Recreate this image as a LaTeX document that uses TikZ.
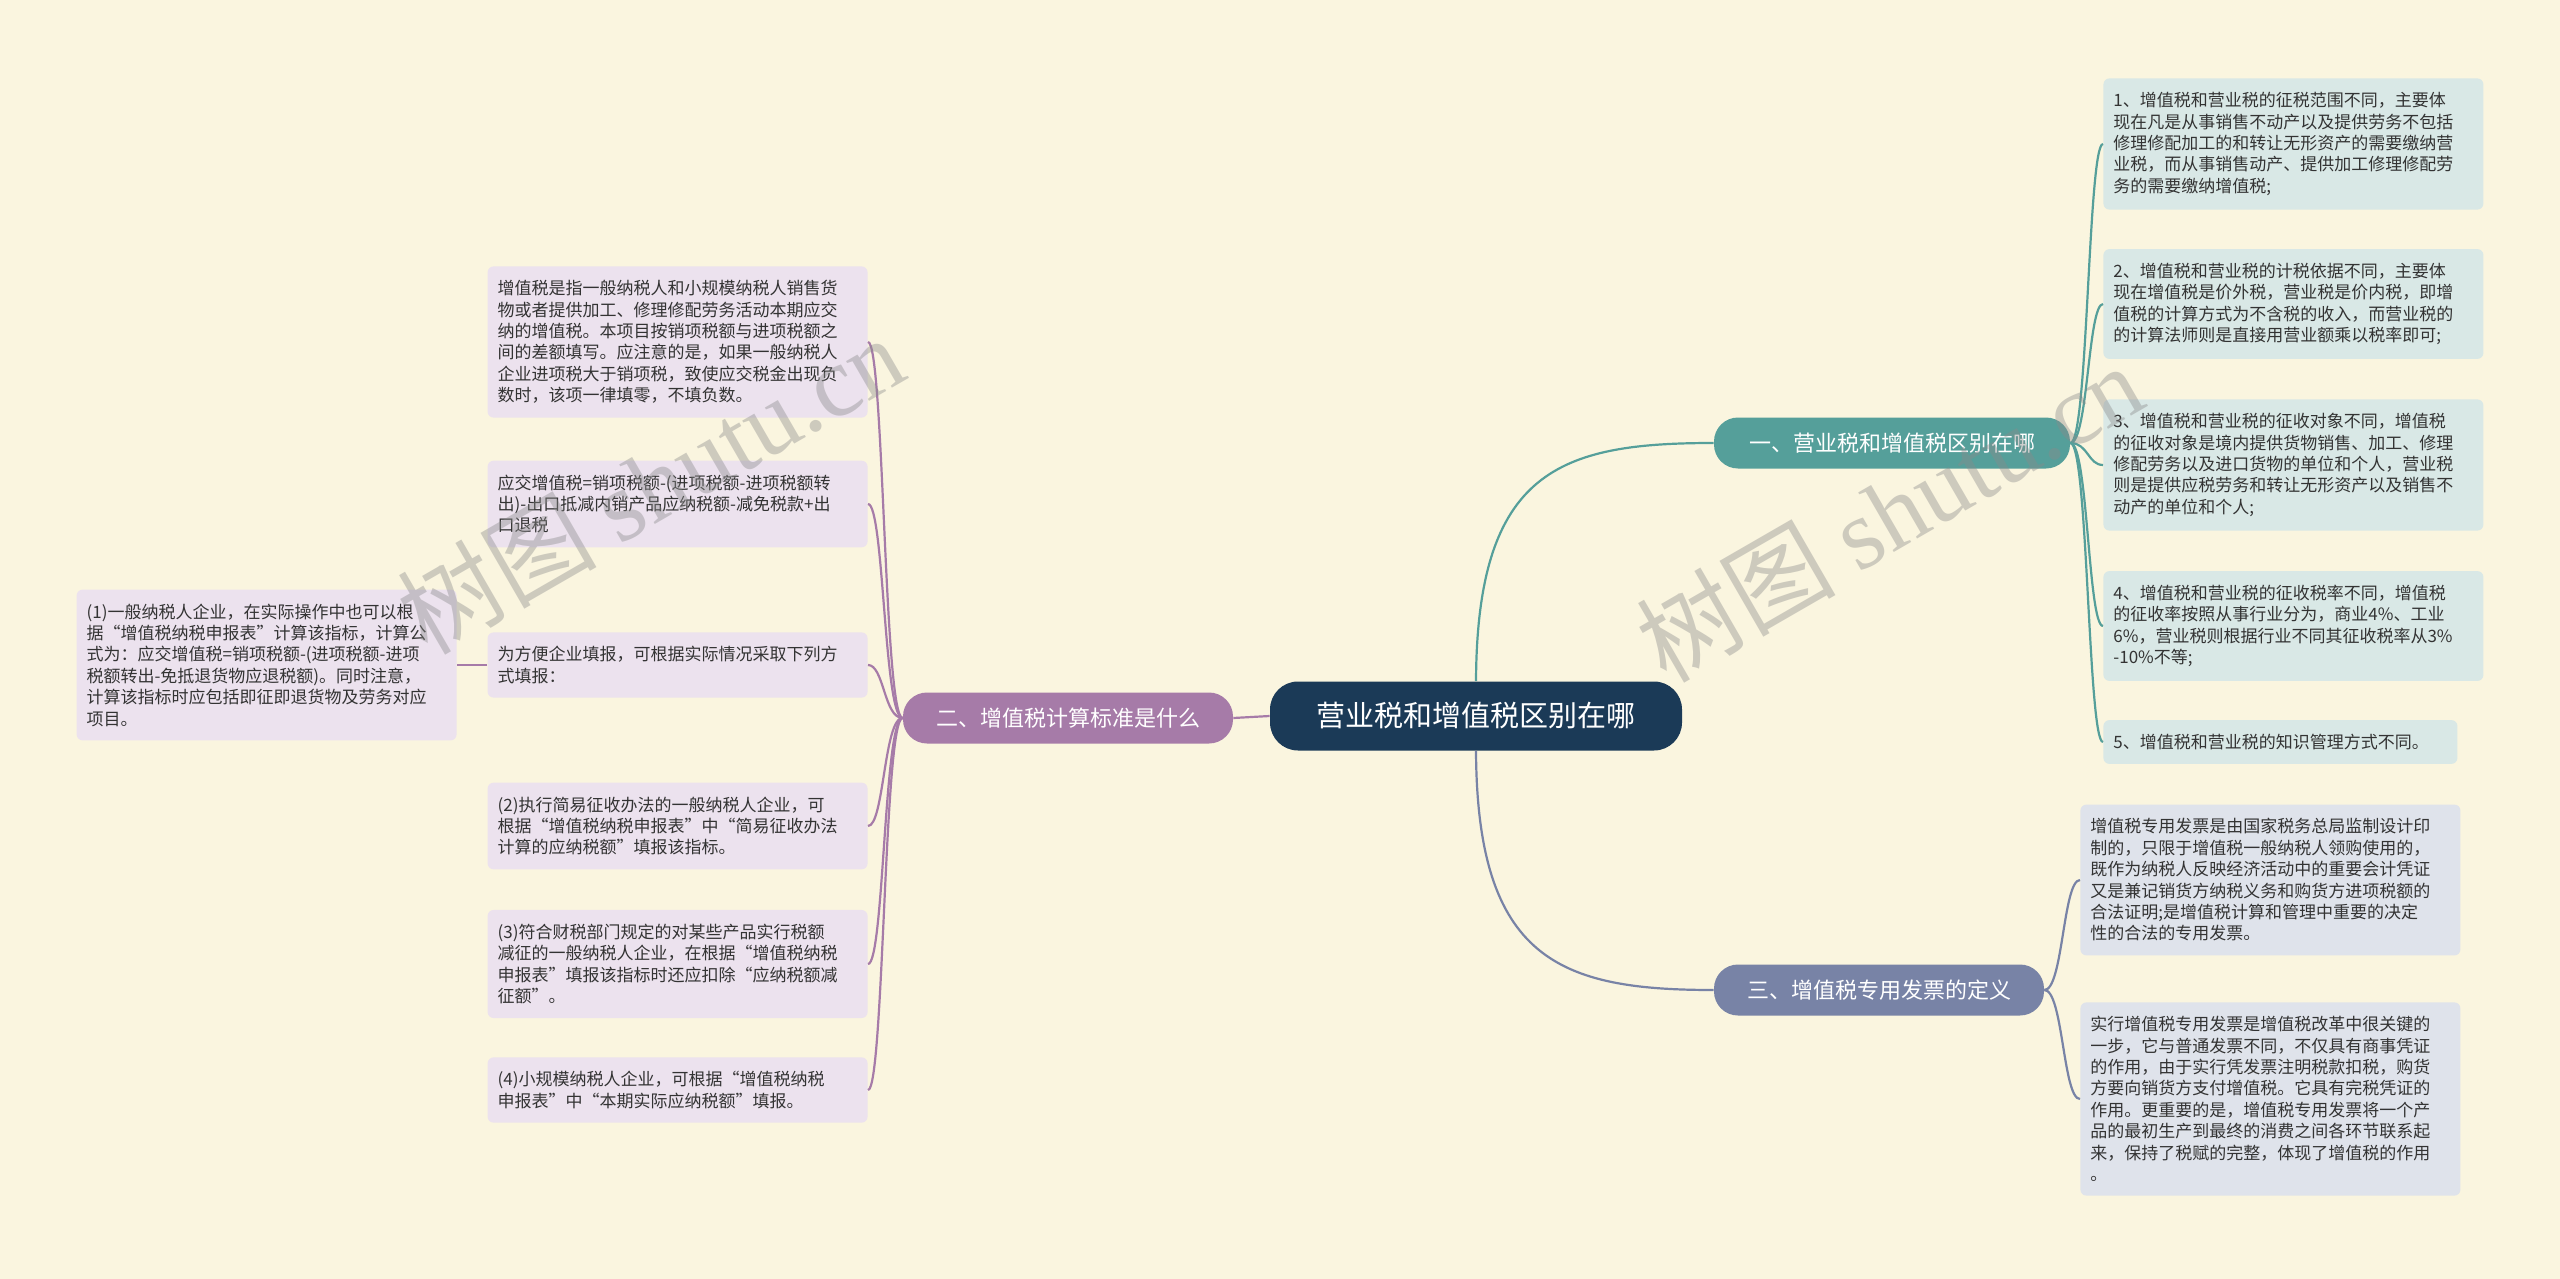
\documentclass[tikz,border=0pt]{standalone}
\usepackage{fontspec}
\setmainfont{Noto Sans CJK SC}
\newfontfamily\wmserif{Liberation Serif}
\newfontfamily\wmcjk{Noto Sans CJK SC}
\definecolor{bgc}{HTML}{FAF5DF}
\definecolor{centerc}{HTML}{1B3A57}
\definecolor{tealc}{HTML}{559F9A}
\definecolor{purc}{HTML}{A67BA8}
\definecolor{slatec}{HTML}{7883A6}
\definecolor{tealfill}{HTML}{D9E8E6}
\definecolor{purfill}{HTML}{ECE2EE}
\definecolor{slatefill}{HTML}{DFE3EB}
\definecolor{textc}{HTML}{333333}
\definecolor{wmc}{HTML}{8A8A8A}
\begin{document}
\begin{tikzpicture}[x=0.5pt,y=-0.5pt,
  leaf/.style={rounded corners=3pt, inner xsep=5pt, inner ysep=7pt, text width=180pt, align=left, font=\fontsize{8.5pt}{10.7pt}\selectfont, text=textc},
  leafA/.style={leaf, fill=tealfill},
  leafB/.style={leaf, fill=purfill},
  leafC/.style={leaf, fill=slatefill},
  branch/.style={rounded corners=12pt, minimum height=25.5pt, inner sep=0pt, text=white, font=\fontsize{11pt}{13pt}\selectfont},
  conA/.style={draw=tealc, line width=1.1pt},
  conB/.style={draw=purc, line width=1.1pt},
  conC/.style={draw=slatec, line width=1.1pt},
  wm/.style={rotate=30, text=wmc, opacity=0.4, inner sep=0pt}
]
\fill[bgc] (0,0) rectangle (2560,1279);
\useasboundingbox (0,0) rectangle (2560,1279);

% central
\node[fill=centerc, rounded corners=14pt, minimum width=206pt, minimum height=34.5pt, inner sep=0pt, text=white, font=\fontsize{14.5pt}{17pt}\selectfont] (c) at (1476,716) {营业税和增值税区别在哪};

% branches
\node[branch, fill=tealc, minimum width=178pt] (b1) at (1892,443) {一、营业税和增值税区别在哪};
\node[branch, fill=purc, minimum width=165pt] (b2) at (1068,718) {二、增值税计算标准是什么};
\node[branch, fill=slatec, minimum width=165pt] (b3) at (1879,990) {三、增值税专用发票的定义};

% branch 1 leaves
\node[leafA, anchor=west] (l1) at (2103,144) {1、增值税和营业税的征税范围不同，主要体\\现在凡是从事销售不动产以及提供劳务不包括\\修理修配加工的和转让无形资产的需要缴纳营\\业税，而从事销售动产、提供加工修理修配劳\\务的需要缴纳增值税;};
\node[leafA, anchor=west] (l2) at (2103,304) {2、增值税和营业税的计税依据不同，主要体\\现在增值税是价外税，营业税是价内税，即增\\值税的计算方式为不含税的收入，而营业税的\\的计算法师则是直接用营业额乘以税率即可;};
\node[leafA, anchor=west] (l3) at (2103,465) {3、增值税和营业税的征收对象不同，增值税\\的征收对象是境内提供货物销售、加工、修理\\修配劳务以及进口货物的单位和个人，营业税\\则是提供应税劳务和转让无形资产以及销售不\\动产的单位和个人;};
\node[leafA, anchor=west] (l4) at (2103,626) {4、增值税和营业税的征收税率不同，增值税\\的征收率按照从事行业分为，商业4\%、工业\\6\%，营业税则根据行业不同其征收税率从3\%\\-10\%不等;};
\node[leafA, anchor=west, text width=167pt] (l5) at (2103,742) {5、增值税和营业税的知识管理方式不同。};

% branch 3 leaves
\node[leafC, anchor=west] (r1) at (2080,880) {增值税专用发票是由国家税务总局监制设计印\\制的，只限于增值税一般纳税人领购使用的，\\既作为纳税人反映经济活动中的重要会计凭证\\又是兼记销货方纳税义务和购货方进项税额的\\合法证明;是增值税计算和管理中重要的决定\\性的合法的专用发票。};
\node[leafC, anchor=west] (r2) at (2080,1099) {实行增值税专用发票是增值税改革中很关键的\\一步，它与普通发票不同，不仅具有商事凭证\\的作用，由于实行凭发票注明税款扣税，购货\\方要向销货方支付增值税。它具有完税凭证的\\作用。更重要的是，增值税专用发票将一个产\\品的最初生产到最终的消费之间各环节联系起\\来，保持了税赋的完整，体现了增值税的作用\\。};

% branch 2 leaves
\node[leafB, anchor=east] (p1) at (868,342) {增值税是指一般纳税人和小规模纳税人销售货\\物或者提供加工、修理修配劳务活动本期应交\\纳的增值税。本项目按销项税额与进项税额之\\间的差额填写。应注意的是，如果一般纳税人\\企业进项税大于销项税，致使应交税金出现负\\数时，该项一律填零，不填负数。};
\node[leafB, anchor=east] (p2) at (868,504) {应交增值税=销项税额-(进项税额-进项税额转\\出)-出口抵减内销产品应纳税额-减免税款+出\\口退税};
\node[leafB, anchor=east] (p3) at (868,665) {为方便企业填报，可根据实际情况采取下列方\\式填报：};
\node[leafB, anchor=east] (p4) at (868,826) {(2)执行简易征收办法的一般纳税人企业，可\\根据“增值税纳税申报表”中“简易征收办法\\计算的应纳税额”填报该指标。};
\node[leafB, anchor=east] (p5) at (868,964) {(3)符合财税部门规定的对某些产品实行税额\\减征的一般纳税人企业，在根据“增值税纳税\\申报表”填报该指标时还应扣除“应纳税额减\\征额”。};
\node[leafB, anchor=east] (p6) at (868,1090) {(4)小规模纳税人企业，可根据“增值税纳税\\申报表”中“本期实际应纳税额”填报。};
\node[leafB, anchor=east] (q1) at (457,665) {(1)一般纳税人企业，在实际操作中也可以根\\据“增值税纳税申报表”计算该指标，计算公\\式为：应交增值税=销项税额-(进项税额-进项\\税额转出-免抵退货物应退税额)。同时注意，\\计算该指标时应包括即征即退货物及劳务对应\\项目。};

% main connectors
\draw[conA] (c.north) .. controls (1477,470) and (1560,443) .. (b1.west);
\draw[conC] (c.south) .. controls (1477,960) and (1560,990) .. (b3.west);
\draw[conB] (c.west) -- (b2.east);

% branch 1 connectors
\foreach \n/\yy in {l1/144,l2/304,l3/465,l4/626,l5/742}
  \draw[conA] (b1.east) .. controls (2088,443) and (2088,\yy) .. (\n.west);
% branch 3 connectors
\foreach \n/\yy in {r1/880,r2/1099}
  \draw[conC] (b3.east) .. controls (2063,990) and (2063,\yy) .. (\n.west);
% branch 2 connectors
\foreach \n/\yy in {p1/342,p2/504,p3/665,p4/826,p5/964,p6/1090}
  \draw[conB] (b2.west) .. controls (884,718) and (884,\yy) .. (\n.east);
\draw[conB] (p3.west) -- (q1.east);

% watermarks
\node[wm] (wm1) at (650,484) {\fontsize{50pt}{50pt}\wmcjk 树图 \wmserif shutu.cn};
\node[wm] (wm2) at (1889,512) {\fontsize{50pt}{50pt}\wmcjk 树图 \wmserif shutu.cn};
\end{tikzpicture}
\end{document}
